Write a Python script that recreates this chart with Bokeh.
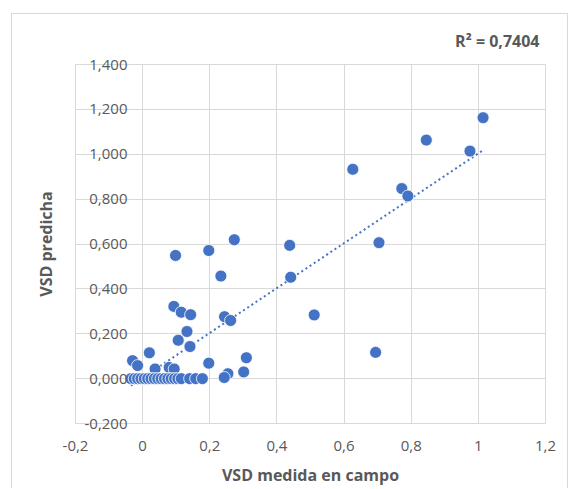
import numpy as np
from bokeh.plotting import figure
from bokeh.models import (Range1d, FixedTicker, CustomJSTickFormatter, LinearAxis,
                          Title, ColumnDataSource)
from bokeh.embed import file_html
from bokeh.resources import INLINE

# Measured (field) vs predicted VSD
vsd_medida = [1.014, 0.845, 0.975, 0.626, 0.772, 0.790, 0.273, 0.197, 0.098, 0.438,
              0.704, 0.233, 0.441, 0.511, 0.694, 0.093, 0.115, 0.143, 0.244, 0.262,
              0.132, 0.106, 0.141, 0.020, -0.030, -0.015, 0.037, 0.079, 0.094, 0.197,
              0.309, 0.301, 0.254, 0.243,
              -0.035, -0.025, -0.015, -0.005, 0.005, 0.015, 0.025, 0.035, 0.045, 0.055,
              0.065, 0.075, 0.085, 0.095, 0.105, 0.115, 0.140, 0.158, 0.178]
vsd_predicha = [1.163, 1.063, 1.014, 0.933, 0.847, 0.814, 0.619, 0.571, 0.549, 0.594,
                0.606, 0.457, 0.452, 0.284, 0.117, 0.322, 0.296, 0.285, 0.276, 0.259,
                0.210, 0.171, 0.143, 0.115, 0.080, 0.058, 0.043, 0.050, 0.043, 0.069,
                0.093, 0.030, 0.022, 0.005,
                0.000, 0.000, 0.000, 0.000, 0.000, 0.000, 0.000, 0.000, 0.000, 0.000,
                0.000, 0.000, 0.000, 0.000, 0.000, 0.000, 0.000, 0.000, 0.000]
x_ticks = [-0.2, 0.0, 0.2, 0.4, 0.6, 0.8, 1.0, 1.2]
y_ticks = [-0.2, 0.0, 0.2, 0.4, 0.6, 0.8, 1.0, 1.2, 1.4]
r2_label = "R² = 0,7404"
x_title = "VSD medida en campo"
y_title = "VSD predicha"

BLUE = "#4472C4"
GRID = "#d9d9d9"
TXT = "#595959"
FONT = "Open Sans"

xs = np.array(vsd_medida)
ys = np.array(vsd_predicha)
slope, intercept = np.polyfit(xs, ys, 1)
tx = np.array([xs.min(), xs.max()])
ty = slope * tx + intercept

p = figure(width=557, height=475, output_backend="svg", toolbar_location=None,
           x_range=Range1d(x_ticks[0], x_ticks[-1]), y_range=Range1d(y_ticks[0], y_ticks[-1]),
           min_border_left=63, min_border_right=24, min_border_top=49, min_border_bottom=66,
           x_axis_location=None, y_axis_location=None)
p.margin = (13, 0, 0, 11)
p.styles = {"border-left": f"1px solid {GRID}", "border-top": f"1px solid {GRID}",
            "border-right": f"1px solid {GRID}"}
p.background_fill_color = "white"
p.border_fill_color = "white"
p.outline_line_color = GRID

# x axis
xaxis = LinearAxis(ticker=FixedTicker(ticks=x_ticks),
                   formatter=CustomJSTickFormatter(code="""
                       var v = Math.round(tick*10)/10;
                       return v.toString().replace('.', ',');"""),
                   axis_label=x_title)
xaxis.axis_line_color = None
xaxis.major_tick_line_color = None
xaxis.minor_tick_line_color = None
xaxis.major_tick_out = 0
xaxis.major_tick_in = 0
xaxis.major_label_standoff = 17
xaxis.major_label_text_font = FONT
xaxis.major_label_text_font_size = "15px"
xaxis.major_label_text_color = TXT
xaxis.axis_label_standoff = 10
xaxis.axis_label_text_font = FONT
xaxis.axis_label_text_font_size = "16px"
xaxis.axis_label_text_font_style = "bold"
xaxis.axis_label_text_color = TXT
p.add_layout(xaxis, "below")

# y axis: labels sit next to x = 0, as in the original
yaxis = LinearAxis(ticker=FixedTicker(ticks=y_ticks),
                   formatter=CustomJSTickFormatter(code="""
                       var s = tick.toFixed(3).replace('.', ',');
                       if (s == '-0,000') s = '0,000';
                       return s;"""),
                   axis_label=y_title)
yaxis.axis_line_color = None
yaxis.major_tick_line_color = None
yaxis.minor_tick_line_color = None
yaxis.major_tick_out = 0
yaxis.major_tick_in = 0
yaxis.major_label_standoff = -52
yaxis.major_label_text_font = FONT
yaxis.major_label_text_font_size = "15px"
yaxis.major_label_text_color = TXT
yaxis.axis_label_standoff = 24
yaxis.axis_label_text_font = FONT
yaxis.axis_label_text_font_size = "16px"
yaxis.axis_label_text_font_style = "bold"
yaxis.axis_label_text_color = TXT
p.add_layout(yaxis, "left")

p.xgrid.ticker = FixedTicker(ticks=x_ticks)
p.ygrid.ticker = FixedTicker(ticks=y_ticks)
p.xgrid.grid_line_color = GRID
p.ygrid.grid_line_color = GRID

t = Title(text=r2_label, align="right", text_font=FONT, text_font_size="16px",
          text_font_style="bold", text_color=TXT, standoff=26, offset=6)
p.add_layout(t, "above")

src = ColumnDataSource(dict(x=xs, y=ys))
p.line(tx, ty, line_color=BLUE, line_width=2, line_dash="2 3")
p.scatter("x", "y", source=src, size=12, fill_color=BLUE, line_color="white",
          line_width=0.8)

open("out.html", "w").write(file_html(p, INLINE))
